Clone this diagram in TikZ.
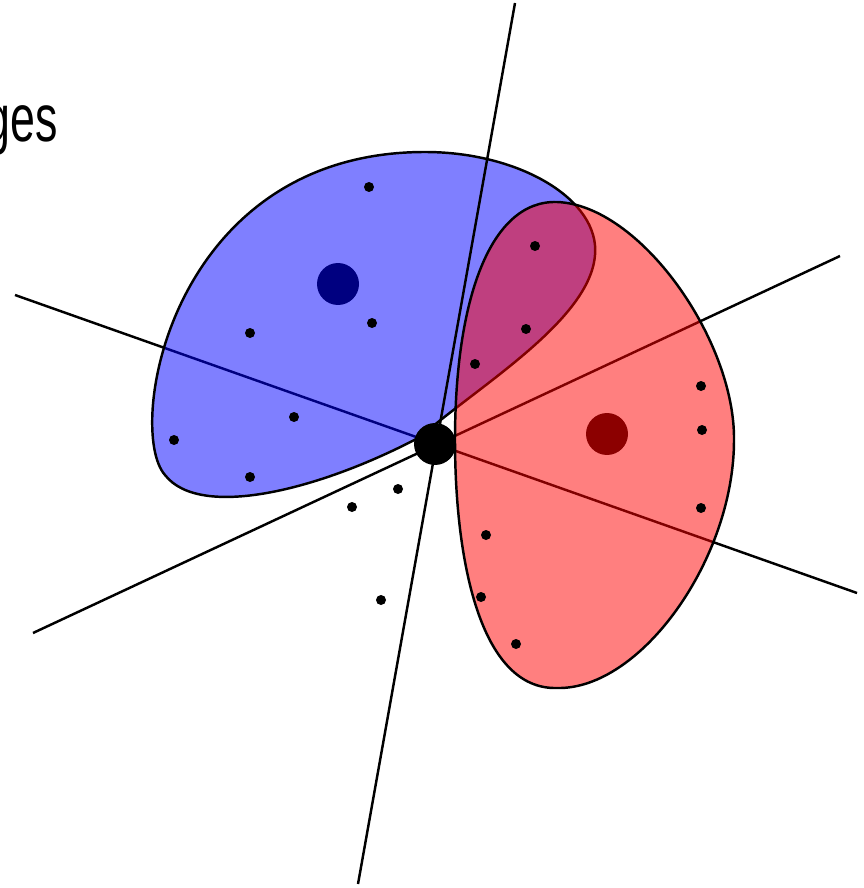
\documentclass[tikz,border=0pt]{standalone}
\usepackage{fontspec}
\newfontfamily\headfont[FakeStretch=0.67]{Liberation Sans}
\usetikzlibrary{calc}
\definecolor{clBlue}{HTML}{0000FF}
\definecolor{clRed}{HTML}{FF0000}
\tikzset{
  cut/.style={line width=1.4pt, draw=black},
  blob/.style={line width=1.4pt, draw=black, fill opacity=0.5},
  pt/.style={fill=black},
}
\begin{document}
\begin{tikzpicture}[x=0.02cm, y=-0.02cm]
        \useasboundingbox (0,0) rectangle (864,888);
        % cutting lines through the centre
        \coordinate (c) at (435,444);
        \draw[cut] (15,295) -- (857,593);
        \draw[cut] (33,633) -- (840,256);
        % blue cluster
        \draw[blob, fill=clBlue] (420,437) .. controls (320,490) and (200,520) .. (165,475)
            .. controls (125,430) and (170,152) .. (425,152)
            .. controls (520,152) and (600,200) .. (595,255)
            .. controls (590,320) and (480,385) .. cycle;
        \draw[cut] (515,3) -- (358,884);
        % red cluster
        \draw[blob, fill=clRed] (455,440) .. controls (455,300) and (490,200) .. (557,202)
            .. controls (640,205) and (735,340) .. (734,440)
            .. controls (734,560) and (640,690) .. (557,688)
            .. controls (480,690) and (455,560) .. cycle;
        % samples
        \foreach \x/\y in {369/187, 250/333, 372/323, 294/417, 174/440, 250/477, 398/489, 352/507, 381/600, 535/246, 526/329, 475/364, 701/386, 702/430, 701/508, 486/535, 481/597, 516/644}{
            \fill[pt] (\x,\y) circle (0.1cm);
        }
        \fill[clBlue!50!black] (338,284) circle (0.42cm);
        \fill[clRed!55!black] (607,434) circle (0.42cm);
        \fill[black] (c) circle (0.42cm);
        \node[anchor=base east, inner sep=0pt, font=\headfont\fontsize{38}{40}\selectfont] (title) at (58,142) {ges};
    \end{tikzpicture}
\end{document}
